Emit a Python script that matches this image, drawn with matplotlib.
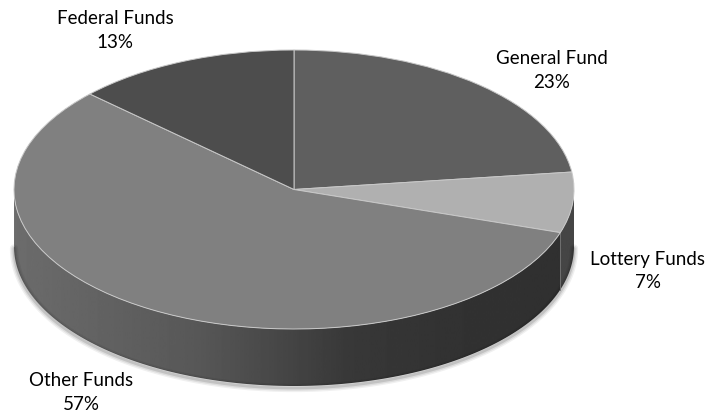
import numpy as np
import matplotlib
matplotlib.use('Agg')
import matplotlib.pyplot as plt
from matplotlib.patches import Wedge, Polygon
from matplotlib.transforms import Affine2D

# data
labels = ['General Fund', 'Lottery Funds', 'Other Funds', 'Federal Funds']
shares = [23, 7, 57, 13]
top_colors = ['#5f5f5f', '#b0b0b0', '#808080', '#4d4d4d']
label_pos = [(552, 70), (648, 271), (81, 393), (115, 30)]

# ellipse geometry in pixels
cx, cy, rx, ry, depth = 294, 189.5, 280, 139.5, 57

plt.rcParams['font.family'] = ['Lato', 'DejaVu Sans']
fig = plt.figure(figsize=(7.09, 4.16), dpi=100)
ax = fig.add_axes([0, 0, 1, 1])
ax.set_xlim(0, 709)
ax.set_ylim(416, 0)
ax.axis('off')

ell = Affine2D().scale(rx, -ry).translate(cx, cy) + ax.transData


def rim(t, dy=0.0):
    t = np.radians(t)
    return np.column_stack([cx + rx * np.cos(t), cy - ry * np.sin(t) + dy])


# wall shade by x position (left lighter, right darker)
def wall_gray(x):
    return np.interp(x, [14, 200, 350, 450, 574], [108, 87, 56, 50, 48]) / 255


# angles: start at 12 o'clock, go clockwise
total = float(sum(shares))
ends = 90 - 360 * np.cumsum(shares) / total
starts = np.concatenate([[90], ends[:-1]])

# soft shadow under the wall
t = np.linspace(180, 360, 200)
sh = rim(t, depth + 2)
for w, a in [(6, 0.06), (4, 0.08), (2, 0.12)]:
    ax.plot(sh[:, 0], sh[:, 1], color='black', lw=w, alpha=a, solid_capstyle='round')

# side walls (front half only)
grad_x = np.linspace(0, 709, 400)
grad = wall_gray(grad_x)[None, :]
for i, (s, e) in enumerate(zip(starts, ends)):
    lo, hi = e % 360, s % 360
    if hi <= lo:
        hi += 360
    a0, a1 = max(lo, 180), min(hi, 360)
    if a1 <= a0:
        continue
    tt = np.linspace(a0, a1, 150)
    top = rim(tt)
    bot = rim(tt[::-1], depth)
    poly = Polygon(np.vstack([top, bot]), closed=True, facecolor='none',
                   edgecolor='none')
    ax.add_patch(poly)
    if labels[i] == 'Lottery Funds':
        g = np.full_like(grad, 69 / 255)
    else:
        g = grad
    im = ax.imshow(g, cmap='gray', vmin=0, vmax=1, extent=(0, 709, 416, 0),
                   aspect='auto', zorder=1)
    im.set_clip_path(poly)
    ax.plot([top[0, 0], top[0, 0]], [top[0, 1], top[0, 1] + depth],
            color='#707070', lw=0.6, zorder=2)

# top surface
for s, e, c in zip(starts, ends, top_colors):
    ax.add_patch(Wedge((0, 0), 1, e, s, facecolor=c, edgecolor='#c8c8c8',
                       lw=0.7, transform=ell, zorder=3))

# labels
for lab, v, (x, y) in zip(labels, shares, label_pos):
    ax.text(x, y, f'{lab}\n{v}%', ha='center', va='center', fontsize=13.5,
            color='black', linespacing=1.5, zorder=4)

fig.savefig('out.png', dpi=100)
